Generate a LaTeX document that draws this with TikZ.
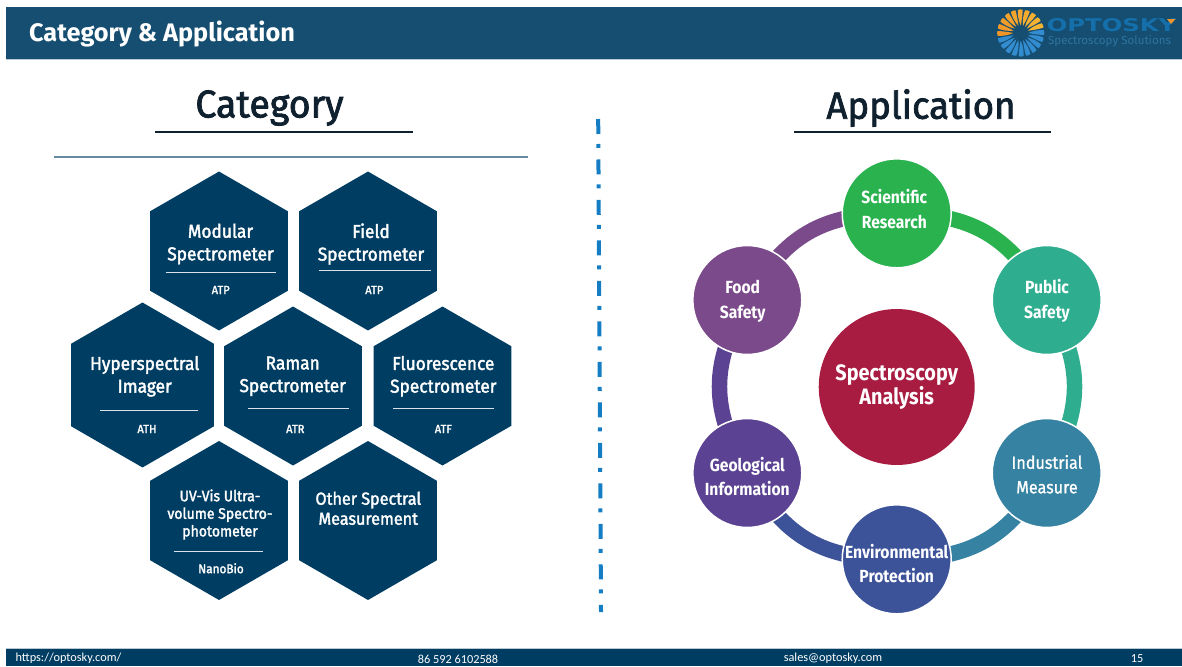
\documentclass[tikz,border=0pt]{standalone}
\usepackage{fontspec}
\setmainfont{Fira Sans}
\newfontfamily\medfont[FakeBold=2,FakeStretch=0.93]{Fira Sans}
\newfontfamily\spotfont[FakeStretch=0.89]{Fira Sans}
\newfontfamily\headfont[FakeBold=2,FakeStretch=0.97]{Fira Sans}
\newfontfamily\plainfont[FakeBold=1,FakeStretch=0.92]{Fira Sans}
\newfontfamily\footfont{Carlito}
\newfontfamily\logofont[FakeStretch=1.38]{DejaVu Sans Bold}
\usetikzlibrary{shapes.geometric,backgrounds}
\definecolor{navy}{RGB}{0,61,98}
\definecolor{barblue}{RGB}{21,78,112}
\definecolor{inkdark}{RGB}{15,32,46}
\definecolor{dashblue}{RGB}{20,125,195}
\definecolor{sciencegreen}{RGB}{42,178,79}
\definecolor{publicteal}{RGB}{47,173,143}
\definecolor{industryblue}{RGB}{54,130,162}
\definecolor{envblue}{RGB}{60,82,153}
\definecolor{geopurple}{RGB}{91,66,146}
\definecolor{foodpurple}{RGB}{123,74,138}
\definecolor{centerred}{RGB}{168,28,66}
\definecolor{petalyellow}{RGB}{246,184,52}
\definecolor{petalorange}{RGB}{240,150,40}
\definecolor{petalblue}{RGB}{52,140,208}
\tikzset{
  hexcell/.style={regular polygon, regular polygon sides=6, shape border rotate=30, fill=navy, inner sep=0pt, minimum size=3.18cm},
  hextext/.style={text=white, align=center, inner sep=0pt, font=\medfont\fontsize{10.6}{12.9}\selectfont},
  codetext/.style={text=white, inner sep=0pt, font=\medfont\fontsize{6.8}{8}\selectfont},
  hexrule/.style={white!85!navy, line width=0.4pt},
  spot/.style={circle, draw=white, line width=0.03cm, inner sep=0pt, minimum size=2.18cm},
  spottext/.style={text=white, align=center, inner sep=0pt, font=\spotfont\bfseries\fontsize{10}{14}\selectfont},
  ringpart/.style={line width=0.31cm, bend left=30, looseness=1.1},
  headtext/.style={text=inkdark, inner sep=0pt, font=\headfont\fontsize{21.5}{25}\selectfont},
  foottext/.style={text=white, inner sep=0pt, font=\footfont\fontsize{7}{8}\selectfont},
  petalshape/.style={shift={(1020.7,33)}, rotate=#1}
}
\begin{document}
\begin{tikzpicture}[x=0.02cm,y=-0.02cm]
\useasboundingbox (0,0) rectangle (1182,666);
\fill[barblue] (5.5,7) rectangle (1182,59.3);
\draw[white!70!barblue, line width=0.4pt] (5.5,59.3) -- (1182,59.3);
\fill[navy] (5.5,648.5) rectangle (1182,666);
\draw[white!70!barblue, line width=0.4pt] (5.5,648.5) -- (1182,648.5);
\node[text=white, inner sep=0pt, font=\bfseries\fontsize{14.4}{17}\selectfont] (maintitle) at (162,34) {Category \& Application};

\foreach \a in {18,36,...,180} {
  \pgfmathtruncatemacro{\mixval}{\a/1.8}
  \colorlet{petal}{petalorange!\mixval!petalyellow}
  \fill[petal, petalshape=\a] (7.5,0) .. controls (13,-2.5) and (19,-3.2) .. (23,-2.8) .. controls (23.8,-1) and (23.8,0.5) .. (23.2,2) .. controls (18,1.8) and (12,1) .. cycle;
}
\foreach \a in {198,216,...,360} {
  \fill[petalblue, petalshape=\a] (7.5,0) .. controls (13,-2.5) and (19,-3.2) .. (23,-2.8) .. controls (23.8,-1) and (23.8,0.5) .. (23.2,2) .. controls (18,1.8) and (12,1) .. cycle;
}
\node[text=dashblue!70!barblue, inner sep=0pt, font=\logofont\fontsize{10}{10}\selectfont] (logoname) at (1111.5,25.5) {OPTOSKY};
\fill[petalorange] (1167,19) -- (1175.5,19) -- (1171,24) -- cycle;
\node[text=white!22!dashblue!50!barblue, inner sep=0pt, font=\fontsize{6.6}{8}\selectfont] (logotag) at (1109.5,41.5) {Spectroscopy Solutions};

\node[headtext, font=\headfont\fontsize{22}{25}\selectfont] (cattitle) at (269.5,108) {Category};
\draw[inkdark, line width=0.05cm] (155,132) -- (413,132);
\draw[white!40!navy, line width=0.03cm] (54,157) -- (528,157);
\node[headtext] (apptitle) at (921,108) {Application};
\draw[inkdark, line width=0.05cm] (794,132) -- (1051,132);

\draw[dashblue, line width=0.08cm, dash pattern=on 0.3cm off 0.2cm on 0.08cm off 0.23cm] (598.2,119) -- (601,612);

\node[hexcell] (modular) at (219,251) {};
\node[hexcell] (field) at (368,251) {};
\node[hexcell, minimum size=3.3cm] (hyper) at (142.5,385) {};
\node[hexcell] (raman) at (293,386) {};
\node[hexcell] (fluor) at (442.5,386) {};
\node[hexcell] (uvvis) at (219,520.5) {};
\node[hexcell] (other) at (368,520.5) {};

\node[hextext] (modulartxt) at (220.5,244) {Modular\\Spectrometer};
\draw[hexrule] (165.7,272.5) -- (276,272.5);
\node[codetext] (modularcode) at (220.7,290) {ATP};
\node[hextext] (fieldtxt) at (371,244) {Field\\Spectrometer};
\draw[hexrule] (318.7,270.7) -- (431,270.7);
\node[codetext] (fieldcode) at (374.3,290) {ATP};
\node[hextext] (hypertxt) at (144.7,376.3) {Hyperspectral\\Imager};
\draw[hexrule] (100,410) -- (197.7,410);
\node[codetext] (hypercode) at (147,429) {ATH};
\node[hextext] (ramantxt) at (292.7,376.3) {Raman\\Spectrometer};
\draw[hexrule] (248.3,408.7) -- (349.3,408.7);
\node[codetext] (ramancode) at (295.3,429) {ATR};
\node[hextext] (fluortxt) at (443.3,376.3) {Fluorescence\\Spectrometer};
\draw[hexrule] (393.3,408.7) -- (494,408.7);
\node[codetext] (fluorcode) at (443.3,429) {ATF};
\node[hextext, font=\medfont\fontsize{8.6}{10}\selectfont] (uvvistxt) at (220,514.5) {UV-Vis Ultra-\\volume Spectro-\\photometer};
\draw[hexrule] (173.7,551.7) -- (262.7,551.7);
\node[codetext, font=\medfont\fontsize{7.2}{8}\selectfont] (uvviscode) at (221,568.3) {NanoBio};
\node[hextext, font=\medfont\fontsize{9.9}{11.4}\selectfont] (othertxt) at (368.3,508.3) {Other Spectral\\Measurement};

\node[circle, fill=centerred, inner sep=0pt, minimum size=3.12cm, text=white, align=center, font=\spotfont\bfseries\fontsize{12.7}{13.8}\selectfont] (core) at (896.7,387) {Spectroscopy\\Analysis};
\node[spot, fill=sciencegreen] (science) at (896.7,213.3) {};
\node[spot, fill=publicteal] (public) at (1046.7,300) {};
\node[spot, fill=industryblue] (industry) at (1046.7,473) {};
\node[spot, fill=envblue] (environ) at (896.7,559.3) {};
\node[spot, fill=geopurple] (geology) at (747.3,473) {};
\node[spot, fill=foodpurple] (food) at (747.3,300) {};
\begin{scope}[on background layer]
\draw[ringpart, sciencegreen] (science.center) to (public.center);
\draw[ringpart, publicteal] (public.center) to (industry.center);
\draw[ringpart, industryblue] (industry.center) to (environ.center);
\draw[ringpart, envblue] (environ.center) to (geology.center);
\draw[ringpart, geopurple] (geology.center) to (food.center);
\draw[ringpart, foodpurple] (food.center) to (science.center);
\end{scope}
\node[spottext] (sciencetxt) at (894.3,209) {Scientific\\Research};
\node[spottext] (publictxt) at (1047,301) {Public\\Safety};
\node[spottext, font=\plainfont\fontsize{10}{14}\selectfont] (industrytxt) at (1047,474.3) {Industrial\\Measure};
\node[spottext] (environtxt) at (896.7,563.7) {Environmental\\Protection};
\node[spottext] (geologytxt) at (747.3,476.5) {Geological\\Information};
\node[spottext] (foodtxt) at (742.7,301) {Food\\Safety};

\node[foottext] (footurl) at (68.5,658) {https://optosky.com/};
\node[foottext] (footphone) at (458,659.5) {86 592 6102588};
\node[foottext] (footmail) at (833,658.5) {sales@optosky.com};
\node[foottext] (footpage) at (1137,658.5) {15};
\end{tikzpicture}
\end{document}
